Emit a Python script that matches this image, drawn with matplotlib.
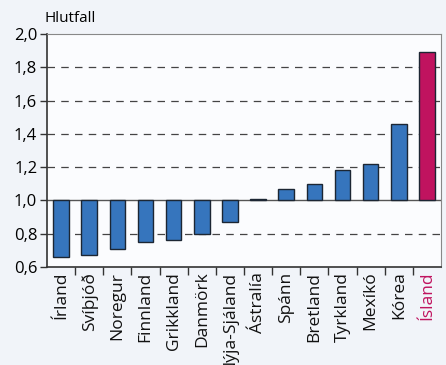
import matplotlib
matplotlib.use("Agg")
import matplotlib.pyplot as plt
from matplotlib.ticker import FuncFormatter, FixedLocator

countries = ["Írland", "Svíþjóð", "Noregur", "Finnland", "Grikkland", "Danmörk",
             "Nýja-Sjáland", "Ástralía", "Spánn", "Bretland", "Tyrkland",
             "Mexíkó", "Kórea", "Ísland"]
values = [0.66, 0.67, 0.71, 0.75, 0.76, 0.80, 0.87, 1.01, 1.07, 1.10, 1.18,
          1.22, 1.46, 1.89]
highlight = "Ísland"

plt.rcParams["font.family"] = ["Open Sans", "DejaVu Sans"]

fig = plt.figure(figsize=(4.46, 3.65), dpi=100, facecolor="#f1f4f9")
ax = fig.add_axes([47/446, 1 - 267/365, 394/446, 233/365])
ax.set_facecolor("#fbfcfe")

base = 1.0
x = list(range(len(countries)))
colors = ["#c0135f" if c == highlight else "#3675bd" for c in countries]
heights = [v - base for v in values]
ax.bar(x, heights, bottom=base, width=0.55, color=colors,
       edgecolor="#1c2633", linewidth=1, zorder=3)

ax.set_xlim(-0.5, len(countries) - 0.5)
ax.set_ylim(0.6, 2.0)

for y in [0.8, 1.2, 1.4, 1.6, 1.8]:
    ax.axhline(y, color="#444444", lw=0.9, ls=(0, (6, 5)), zorder=1)
ax.axhline(1.0, color="#555555", lw=1.0, zorder=2)

ax.yaxis.set_major_locator(FixedLocator([0.6, 0.8, 1.0, 1.2, 1.4, 1.6, 1.8, 2.0]))
ax.yaxis.set_major_formatter(FuncFormatter(lambda v, p: f"{v:.1f}".replace(".", ",")))
ax.tick_params(axis="y", labelsize=12, length=5, width=1, color="#333333", pad=2)

# ticks between categories, labels centred
ax.set_xticks([i + 0.5 for i in x[:-1]], minor=False)
ax.set_xticklabels([])
ax.tick_params(axis="x", length=6, width=1, color="#333333")
for i, c in enumerate(countries):
    ax.text(i, -0.02, c, transform=ax.get_xaxis_transform(), rotation=90,
            ha="center", va="top", fontsize=12.5,
            color="#c0135f" if c == highlight else "#111111")

for s in ["left", "bottom"]:
    ax.spines[s].set_color("#333333")
    ax.spines[s].set_linewidth(1.2)
for s in ["top", "right"]:
    ax.spines[s].set_color("#888888")
    ax.spines[s].set_linewidth(0.8)

fig.text(45/446, 1 - 18/365, "Hlutfall", fontsize=11, ha="left", va="center")

fig.savefig("out.png", dpi=100, facecolor=fig.get_facecolor())
